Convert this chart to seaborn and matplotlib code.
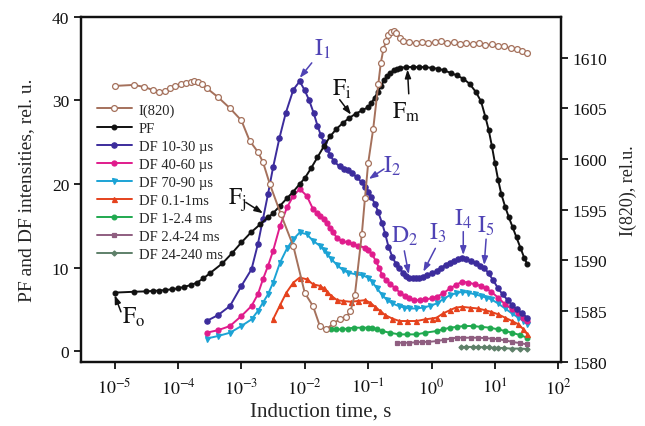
import numpy as np
import matplotlib
matplotlib.use("Agg")
import matplotlib.pyplot as plt
import seaborn as sns
from matplotlib.ticker import NullLocator

# ---------------- data (log10 of time in s, value) ----------------
pf_logt = [-5.0, -4.7, -4.5, -4.4, -4.3, -4.2, -4.1, -4.0, -3.9, -3.8, -3.7, -3.6, -3.5,
           -3.3, -3.15, -3.0, -2.85, -2.7, -2.58, -2.5, -2.39, -2.28, -2.18, -2.08, -2.0,
           -1.9, -1.8, -1.7, -1.6, -1.5, -1.4, -1.3, -1.2, -1.1, -1.0, -0.95, -0.9, -0.85,
           -0.8, -0.75, -0.7, -0.65, -0.6, -0.55, -0.5, -0.4, -0.3, -0.2, -0.1, 0.0, 0.1,
           0.2, 0.3, 0.4, 0.5, 0.6, 0.7, 0.78, 0.85, 0.9, 0.95, 1.0, 1.05, 1.1, 1.16, 1.22,
           1.28, 1.34, 1.4, 1.46, 1.51]
pf_val = [7.0, 7.1, 7.15, 7.2, 7.25, 7.3, 7.4, 7.5, 7.7, 7.9, 8.2, 8.7, 9.3,
          10.5, 11.7, 13.0, 14.2, 15.2, 16.0, 16.5, 17.4, 18.3, 19.1, 20.0, 20.7,
          21.9, 23.2, 24.5, 25.7, 26.6, 27.3, 27.9, 28.4, 28.8, 29.2, 29.7, 30.3, 31.0,
          31.7, 32.4, 32.9, 33.3, 33.6, 33.8, 33.9, 34.0, 34.0, 34.0, 34.0, 33.9, 33.8,
          33.6, 33.3, 33.0, 32.6, 32.0, 31.0, 29.9, 28.0, 26.5, 24.6, 22.5, 20.5, 18.8, 17.3, 16.0,
          14.8, 13.6, 12.4, 11.2, 10.4]

i820_logt = [-5.0, -4.7, -4.53, -4.4, -4.3, -4.2, -4.13, -4.05, -3.95, -3.88, -3.8, -3.74,
             -3.68, -3.62, -3.55, -3.37, -3.18, -3.0, -2.87, -2.74, -2.66, -2.55, -2.38,
             -2.18, -2.0, -1.87, -1.76, -1.66, -1.55, -1.45, -1.35, -1.28, -1.21, -1.1,
             -1.05, -1.0, -0.92, -0.84, -0.8, -0.76, -0.72, -0.68, -0.64, -0.6, -0.56, -0.5,
             -0.45, -0.35, -0.25, -0.15, -0.05, 0.05, 0.15, 0.25, 0.35, 0.45, 0.55, 0.65,
             0.75, 0.85, 0.95, 1.05, 1.15, 1.25, 1.35, 1.43, 1.51]
i820_val = [1607.2, 1607.3, 1607.1, 1606.8, 1606.6, 1606.7, 1607.0, 1607.2, 1607.4, 1607.5,
            1607.6, 1607.7, 1607.6, 1607.4, 1607.0, 1606.1, 1605.0, 1603.8, 1601.8, 1600.7,
            1599.7, 1597.5, 1594.6, 1591.4, 1586.8, 1585.5, 1583.5, 1583.2, 1583.8, 1584.2,
            1584.4, 1585.0, 1586.6, 1592.6, 1596.2, 1599.6, 1603.0, 1607.4, 1609.5, 1610.8,
            1611.6, 1612.2, 1612.5, 1612.6, 1612.4, 1611.9, 1611.6, 1611.5, 1611.4, 1611.5,
            1611.4, 1611.5, 1611.6, 1611.4, 1611.5, 1611.3, 1611.4, 1611.3, 1611.4, 1611.2,
            1611.3, 1611.1, 1611.1, 1610.9, 1610.8, 1610.6, 1610.4]

df1_logt = [-3.55, -3.37, -3.18, -3.0, -2.84, -2.74, -2.66, -2.58, -2.5, -2.4, -2.3, -2.18,
            -2.08, -2.0, -1.93, -1.86, -1.8, -1.75, -1.7, -1.65, -1.6, -1.54, -1.45, -1.38,
            -1.32, -1.25, -1.18, -1.1, -1.05, -1.0, -0.95, -0.89, -0.84, -0.78, -0.73, -0.68,
            -0.62, -0.56, -0.51, -0.45, -0.4, -0.35, -0.3, -0.25, -0.2, -0.14, -0.08, 0.0,
            0.08, 0.15, 0.22, 0.29, 0.35, 0.42, 0.48, 0.55, 0.62, 0.7, 0.77, 0.83, 0.9, 0.97,
            1.05, 1.12, 1.2, 1.27, 1.35, 1.43, 1.51]
df1_val = [3.6, 4.3, 5.4, 7.8, 9.8, 12.8, 15.8, 18.8, 22.0, 25.5, 28.5, 31.3,
           32.3, 31.2, 30.0, 28.5, 27.0, 25.9, 25.0, 24.2, 23.5, 22.7, 22.1, 21.8,
           21.7, 21.3, 20.8, 20.2, 19.7, 19.1, 18.4, 17.6, 16.6, 15.3, 14.0, 12.5,
           11.3, 10.4, 9.9, 9.4, 9.0, 8.8, 8.7, 8.8, 8.8, 8.9, 9.1, 9.3,
           9.6, 10.0, 10.3, 10.6, 10.8, 11.0, 11.2, 11.0, 10.8, 10.5, 10.2, 10.0, 9.3, 8.5,
           7.5, 6.8, 6.1, 5.5, 5.0, 4.5, 4.0]

df2_logt = [-3.55, -3.37, -3.18, -3.0, -2.84, -2.74, -2.66, -2.58, -2.5, -2.39, -2.28, -2.18,
            -2.08, -1.97, -1.87, -1.8, -1.76, -1.7, -1.65, -1.6, -1.55, -1.49, -1.42, -1.32,
            -1.24, -1.16, -1.05, -1.0, -0.94, -0.88, -0.83, -0.78, -0.72, -0.65, -0.57, -0.5,
            -0.42, -0.35, -0.27, -0.19, -0.1, 0.0, 0.08, 0.18, 0.29, 0.38, 0.48, 0.58, 0.68,
            0.78, 0.86, 0.94, 1.05, 1.16, 1.27, 1.37, 1.45, 1.51]
df2_val = [2.2, 2.5, 3.0, 4.2, 5.4, 6.8, 8.6, 10.2, 12.0, 15.0, 17.2, 18.6,
           19.4, 18.6, 17.0, 16.5, 16.2, 15.8, 15.3, 14.7, 14.2, 13.5, 13.2, 13.0,
           12.8, 12.6, 12.4, 12.1, 11.6, 10.8, 10.0, 9.1, 8.5, 8.0, 7.5, 7.0,
           6.6, 6.3, 6.1, 6.1, 6.2, 6.3, 6.5, 6.9, 7.5, 7.9, 8.3, 8.2, 8.0,
           7.8, 7.5, 7.1, 6.4, 5.6, 5.0, 4.5, 4.0, 3.6]

df3_logt = [-3.55, -3.37, -3.18, -3.0, -2.84, -2.74, -2.66, -2.58, -2.5, -2.39, -2.28, -2.18,
            -2.08, -1.97, -1.87, -1.76, -1.7, -1.65, -1.58, -1.49, -1.4, -1.32, -1.2, -1.1,
            -1.0, -0.94, -0.86, -0.78, -0.7, -0.62, -0.52, -0.43, -0.35, -0.25, -0.14, -0.03,
            0.08, 0.18, 0.29, 0.38, 0.48, 0.58, 0.68, 0.78, 0.86, 0.94, 1.05, 1.16, 1.27,
            1.37, 1.45, 1.51]
df3_val = [1.5, 1.8, 2.2, 3.0, 3.8, 4.8, 5.8, 6.8, 8.2, 10.6, 12.3, 13.4,
           14.2, 14.0, 13.2, 12.6, 12.1, 11.6, 11.0, 10.3, 9.7, 9.4, 9.2, 9.1,
           8.8, 8.3, 7.5, 6.7, 6.1, 5.7, 5.4, 5.2, 5.1, 5.1, 5.2, 5.4,
           5.7, 6.2, 6.7, 6.9, 7.1, 7.0, 6.8, 6.6, 6.4, 6.2, 5.7, 5.1, 4.5,
           4.0, 3.6, 3.2]

df4_logt = [-2.5, -2.39, -2.29, -2.18, -2.08, -1.97, -1.87, -1.76, -1.7, -1.65, -1.58, -1.49,
            -1.4, -1.27, -1.16, -1.05, -0.97, -0.89, -0.81, -0.73, -0.62, -0.51, -0.38, -0.24,
            -0.1, 0.0, 0.08, 0.18, 0.29, 0.38, 0.48, 0.6, 0.73, 0.84, 0.94, 1.05, 1.16, 1.27,
            1.37, 1.45, 1.51]
df4_val = [3.8, 5.5, 7.0, 8.2, 8.8, 8.6, 8.0, 7.8, 7.5, 7.1, 6.6, 6.1,
           6.0, 5.9, 6.0, 6.1, 5.8, 5.3, 4.8, 4.3, 3.9, 3.6, 3.6, 3.6,
           3.8, 3.9, 4.0, 4.5, 4.9, 5.2, 5.3, 5.2, 5.1, 4.9, 4.7, 4.4, 4.0, 3.6,
           3.2, 2.6, 2.0]

df5_logt = [-1.59, -1.5, -1.42, -1.32, -1.22, -1.1, -1.0, -0.94, -0.86, -0.78, -0.66, -0.51,
            -0.38, -0.24, -0.1, 0.08, 0.18, 0.29, 0.4, 0.51, 0.65, 0.78, 0.92, 1.05, 1.16,
            1.27, 1.4, 1.51]
df5_val = [2.6, 2.6, 2.6, 2.7, 2.8, 2.8, 2.8, 2.8, 2.6, 2.4, 2.2, 2.0,
           2.0, 2.0, 2.2, 2.4, 2.6, 2.8, 2.9, 3.0, 3.0, 2.9, 2.8, 2.6, 2.4,
           2.2, 1.9, 1.6]

df6_logt = [-0.54, -0.45, -0.35, -0.25, -0.15, -0.05, 0.08, 0.2, 0.3, 0.4, 0.5, 0.62, 0.73,
            0.85, 0.95, 1.05, 1.16, 1.27, 1.4, 1.51]
df6_val = [1.0, 1.0, 1.0, 1.05, 1.1, 1.1, 1.2, 1.35, 1.5, 1.6, 1.6, 1.6, 1.6,
           1.55, 1.5, 1.4, 1.3, 1.1, 0.95, 0.8]

df7_logt = [0.46, 0.55, 0.65, 0.73, 0.82, 0.9, 0.98, 1.05, 1.15, 1.27, 1.4, 1.51]
df7_val = [0.5, 0.5, 0.5, 0.5, 0.45, 0.45, 0.4, 0.4, 0.35, 0.3, 0.3, 0.25]

x_tick_exp = [-5, -4, -3, -2, -1, 0, 1, 2]
left_ticks = [0, 10, 20, 30, 40]
right_ticks = [1580, 1585, 1590, 1595, 1600, 1605, 1610]

# ---------------- style ----------------
sns.set_style("ticks")
plt.rcParams["font.family"] = ["Liberation Serif", "DejaVu Serif"]
plt.rcParams["mathtext.fontset"] = "stix"

fig = plt.figure(figsize=(6.45, 4.27), dpi=100)
ax = fig.add_axes([0.1256, 0.150, 0.744, 0.808])
ax.set_xscale("log")
ax2 = ax.twinx()

def t(a):
    return 10 ** np.asarray(a, dtype=float)

series = [
    # (logt, val, label, color, marker, ms, axis, mfc)
    (df7_logt, df7_val, "DF 24-240 ms", "#5e8069", "D", 2.6, ax, None),
    (df6_logt, df6_val, "DF 2.4-24 ms", "#8f5e80", "s", 3.0, ax, None),
    (df5_logt, df5_val, "DF 1-2.4 ms", "#20a94f", "o", 3.4, ax, None),
    (df4_logt, df4_val, "DF 0.1-1ms", "#e5421d", "^", 3.6, ax, None),
    (df3_logt, df3_val, "DF 70-90 \u00b5s", "#1ca3d5", "v", 3.6, ax, None),
    (df2_logt, df2_val, "DF 40-60 \u00b5s", "#e01c8c", "o", 3.6, ax, None),
    (df1_logt, df1_val, "DF 10-30 \u00b5s", "#3c2c9c", "o", 3.8, ax, None),
    (pf_logt, pf_val, "PF", "#111111", "o", 3.4, ax, None),
    (i820_logt, i820_val, "I(820)", "#a5715c", "o", 4.2, ax2, "white"),
]

handles = {}
for lt, v, lab, col, mk, ms, a, mfc in series:
    sns.lineplot(x=t(lt), y=v, ax=a, color=col, marker=mk, markersize=ms,
                 markeredgecolor=col, markerfacecolor=(mfc if mfc else col),
                 markeredgewidth=0.9, linewidth=1.4, sort=False, label=lab,
                 legend=False)
    handles[lab] = a.lines[-1]

for a in (ax, ax2):
    if a.get_legend() is not None:
        a.get_legend().remove()

# axes limits and ticks
ax.set_xlim(10 ** -5.53, 10 ** 2.04)
ax.set_ylim(-1.3, 40)
ax2.set_ylim(1580, 1614.0)
ax.set_xticks([10.0 ** e for e in x_tick_exp])
ax.set_xticklabels([r"$10^{%d}$" % e for e in x_tick_exp])
ax.xaxis.set_minor_locator(NullLocator())
ax.set_yticks(left_ticks)
ax2.set_yticks(right_ticks)
for a in (ax, ax2):
    a.tick_params(direction="out", length=5, width=1.3, labelsize=12.5, colors="#111111")
    for s in a.spines.values():
        s.set_linewidth(1.6)
        s.set_color("#111111")
        s.set_visible(True)
ax.tick_params(axis="x", labelsize=13, pad=6)

ax.set_xlabel("Induction time, s", fontsize=15, labelpad=3)
ax.set_ylabel("PF and DF intensities, rel. u.", fontsize=14, labelpad=12)
ax2.set_ylabel("I(820), rel.u.", fontsize=13, labelpad=9)

# annotations (data coords: log10 t, left-axis value)
blue_txt = "#4f43b5"
notes = [
    (r"$\mathrm{I}_1$", (-1.73, 36.2), (-1.89, 34.5), (-2.08, 32.7), blue_txt),
    (r"$\mathrm{F}_\mathrm{i}$", (-1.41, 31.5), (-1.45, 30.1), (-1.27, 28.3), "#111111"),
    (r"$\mathrm{F}_\mathrm{m}$", (-0.40, 28.7), (-0.36, 30.8), (-0.38, 33.7), "#111111"),
    (r"$\mathrm{I}_2$", (-0.62, 22.2), (-0.75, 21.8), (-0.99, 20.6), blue_txt),
    (r"$\mathrm{F}_\mathrm{j}$", (-3.07, 18.2), (-2.93, 17.8), (-2.66, 16.5), "#111111"),
    (r"$\mathrm{F}_\mathrm{o}$", (-4.70, 4.1), (-4.9, 4.7), (-5.0, 6.7), "#111111"),
    (r"$\mathrm{D}_2$", (-0.43, 13.9), (-0.43, 12.0), (-0.36, 9.2), blue_txt),
    (r"$\mathrm{I}_3$", (0.10, 14.2), (0.06, 12.3), (-0.13, 9.5), blue_txt),
    (r"$\mathrm{I}_4$", (0.50, 15.9), (0.50, 14.3), (0.50, 11.5), blue_txt),
    (r"$\mathrm{I}_5$", (0.86, 15.1), (0.86, 13.4), (0.83, 10.3), blue_txt),
]
for txt, pos, tail, head, col in notes:
    ax.text(10 ** pos[0], pos[1], txt, color=col, fontsize=17, ha="center", va="center",
            zorder=10)
    ax.annotate("", xy=(10 ** head[0], head[1]), xytext=(10 ** tail[0], tail[1]),
                arrowprops=dict(arrowstyle="-|>,head_length=0.5,head_width=0.18",
                                color=col, lw=1.1, shrinkA=0, shrinkB=0), zorder=10)

order = ["I(820)", "PF", "DF 10-30 \u00b5s", "DF 40-60 \u00b5s", "DF 70-90 \u00b5s",
         "DF 0.1-1ms", "DF 1-2.4 ms", "DF 2.4-24 ms", "DF 24-240 ms"]
leg = ax2.legend([handles[k] for k in order], order, loc="upper left",
                 bbox_to_anchor=(0.008, 0.784), frameon=False, fontsize=10.5,
                 handlelength=2.4, labelspacing=0.33, handletextpad=0.5,
                 borderpad=0.3)

fig.savefig("out.png", dpi=100)
